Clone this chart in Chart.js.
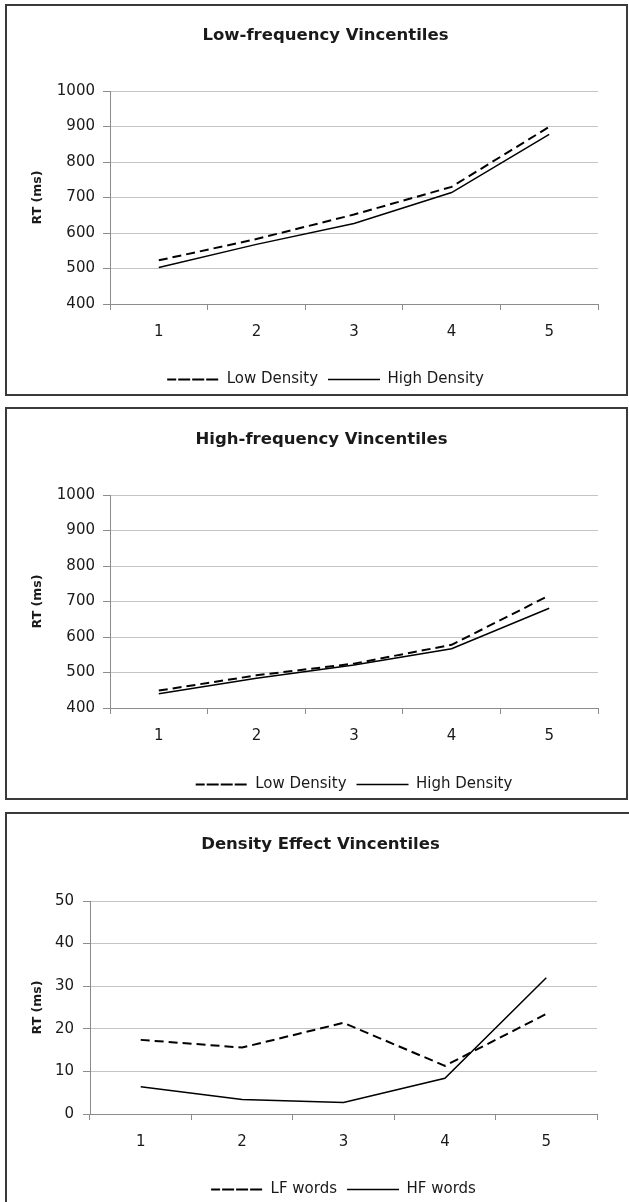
<!DOCTYPE html>
<html>
<head>
<meta charset="utf-8">
<script src="https://cdn.jsdelivr.net/npm/chart.js@4.4.1/dist/chart.umd.min.js"></script>
<style>
html, body { margin: 0; padding: 0; background: #fff; overflow: hidden; width: 629px; height: 1202px; }
.panel { position: absolute; border: 2px solid #3a3a3a; box-sizing: border-box; overflow: hidden; background: #fff; }
.panel canvas { position: absolute; left: 0; top: 0; }
#p1 { left: 5px; top: 4px; width: 623px; height: 392px; }
#p2 { left: 5px; top: 407px; width: 623px; height: 393px; }
#p3 { left: 5px; top: 812px; width: 640px; height: 410px; }
</style>
</head>
<body>
<div class="panel" id="p1"><canvas id="c1"></canvas></div>
<div class="panel" id="p2"><canvas id="c2"></canvas></div>
<div class="panel" id="p3"><canvas id="c3"></canvas></div>
<script>
// vincentile bins
const categories = ['1', '2', '3', '4', '5'];

// low-frequency words, RT in ms
const lfLowDensity = [523, 583, 652, 730, 899];
const lfHighDensity = [503, 568, 627, 714, 878];

// high-frequency words, RT in ms
const hfLowDensity = [449, 492, 525, 578, 717];
const hfHighDensity = [440, 484, 521, 567, 681];

// density effect (ms)
const effectLF = [17.4, 15.6, 21.4, 11.3, 23.5];
const effectHF = [6.4, 3.4, 2.7, 8.4, 32.0];

const rtTicks = [400, 500, 600, 700, 800, 900, 1000];
const effectTicks = [0, 10, 20, 30, 40, 50];

const INK = '#1a1a1a';
const AXIS = '#8c8c8c';
const GRID = '#c4c4c4';
Chart.defaults.font.family = "'DejaVu Sans', sans-serif";
Chart.defaults.color = INK;

const lineSet = (label, data, dashed) => ({
    label, data,
    borderColor: '#000', backgroundColor: '#000',
    borderWidth: dashed ? 2 : 1.5,
    borderDash: dashed ? [9, 5] : [],
    pointRadius: 0, tension: 0, fill: false
});

const makeChart = (id, cfg) => {
    const canvas = document.getElementById(id);
    canvas.width = cfg.w;
    canvas.height = cfg.h;
    const lo = cfg.ticks[0];
    const hi = cfg.ticks[cfg.ticks.length - 1];
    return new Chart(canvas, {
        type: 'line',
        data: { labels: categories, datasets: cfg.datasets },
        options: {
            responsive: false, animation: false, devicePixelRatio: 1,
            layout: { padding: 0 },
            plugins: {
                title: {
                    display: true, text: cfg.title, color: INK,
                    font: { size: 16.5, weight: 'bold' },
                    padding: { top: cfg.titleTop, bottom: cfg.titleBottom }
                },
                legend: {
                    position: 'bottom', fullSize: cfg.legendFull,
                    labels: { boxWidth: 52, boxHeight: 0, padding: 10, color: INK, font: { size: 15 } }
                },
                tooltip: { enabled: false }
            },
            scales: {
                x: {
                    offset: true,
                    grid: { offset: true, drawOnChartArea: false, drawTicks: true, tickLength: 6, color: AXIS },
                    border: { color: AXIS },
                    ticks: { font: { size: 15 }, padding: 13, maxRotation: 0, autoSkip: false, color: INK },
                    afterFit: s => { s.height = cfg.xH; }
                },
                y: {
                    min: lo, max: hi,
                    afterBuildTicks: s => { s.ticks = cfg.ticks.map(v => ({ value: v })); },
                    grid: {
                        color: c => (c.tick && c.tick.value === lo) ? AXIS : GRID,
                        tickColor: AXIS, tickLength: 7
                    },
                    border: { color: AXIS },
                    ticks: { font: { size: 15 }, padding: cfg.yPad, color: INK, callback: v => String(v) },
                    title: {
                        display: true, text: 'RT (ms)', color: INK,
                        font: { size: 12.5, weight: 'bold' },
                        padding: { top: 23.5, bottom: 0 }
                    },
                    afterFit: s => { s.width = cfg.yW; }
                },
                // empty right-hand gutter so the title centres like the original
                yR: {
                    type: 'linear', position: 'right', display: true,
                    grid: { display: false }, border: { display: false }, ticks: { display: false },
                    afterFit: s => { s.width = cfg.rW; }
                }
            }
        }
    });
};

makeChart('c1', {
    title: 'Low-frequency Vincentiles',
    datasets: [lineSet('Low Density', lfLowDensity, true), lineSet('High Density', lfHighDensity, false)],
    ticks: rtTicks,
    w: 637, h: 391, titleTop: 19.6, titleBottom: 45.6, xH: 58, yW: 103, rW: 46, yPad: 8, legendFull: true
});

makeChart('c2', {
    title: 'High-frequency Vincentiles',
    datasets: [lineSet('Low Density', hfLowDensity, true), lineSet('High Density', hfHighDensity, false)],
    ticks: rtTicks,
    w: 629, h: 393, titleTop: 20.6, titleBottom: 45.6, xH: 59, yW: 103, rW: 38, yPad: 8, legendFull: false
});

makeChart('c3', {
    title: 'Density Effect Vincentiles',
    datasets: [lineSet('LF words', effectLF, true), lineSet('HF words', effectHF, false)],
    ticks: effectTicks,
    w: 627, h: 393, titleTop: 20.6, titleBottom: 46.6, xH: 58, yW: 83, rW: 37, yPad: 9, legendFull: false
});
</script>
</body>
</html>
